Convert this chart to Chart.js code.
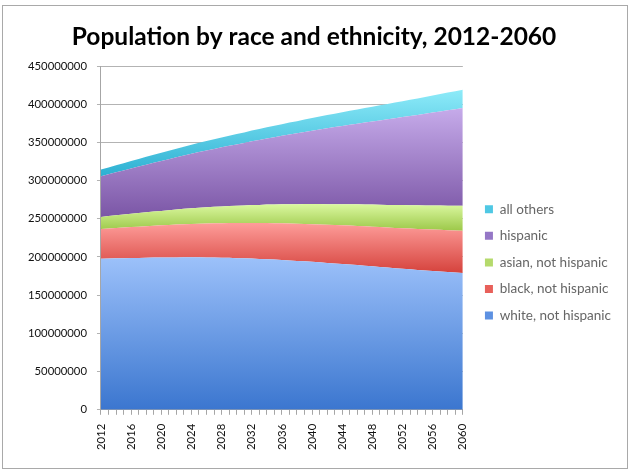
<!doctype html>
<html lang="en">
<head>
<meta charset="utf-8" />
<title>Population by race and ethnicity, 2012-2060</title>
<script src="https://cdn.jsdelivr.net/npm/chart.js@4.4.1/dist/chart.umd.min.js"></script>
<style>
  html, body { margin: 0; padding: 0; background: #fff; }
</style>
</head>
<body>
<canvas id="popChart" width="630" height="474"></canvas>
<script>
const years = [
  '2012', '2013', '2014', '2015', '2016', '2017', '2018', '2019', '2020',
  '2021', '2022', '2023', '2024', '2025', '2026', '2027', '2028', '2029', '2030',
  '2031', '2032', '2033', '2034', '2035', '2036', '2037', '2038', '2039', '2040',
  '2041', '2042', '2043', '2044', '2045', '2046', '2047', '2048', '2049', '2050',
  '2051', '2052', '2053', '2054', '2055', '2056', '2057', '2058', '2059', '2060'
];

const white = [
  197.8e6, 198.0e6, 198.2e6, 198.4e6, 198.6e6, 198.8e6, 199.0e6, 199.2e6, 199.3e6,
  199.4e6, 199.5e6, 199.6e6, 199.6e6, 199.6e6, 199.5e6, 199.3e6, 199.1e6, 198.9e6, 198.5e6,
  198.2e6, 197.9e6, 197.5e6, 197.1e6, 196.6e6, 196.1e6, 195.5e6, 194.9e6, 194.3e6, 193.7e6,
  193.0e6, 192.3e6, 191.6e6, 190.9e6, 190.2e6, 189.4e6, 188.6e6, 187.8e6, 187.0e6, 186.2e6,
  185.4e6, 184.6e6, 183.9e6, 183.1e6, 182.4e6, 181.7e6, 181.0e6, 180.3e6, 179.6e6, 178.9e6
];
const black = [
  38.9e6, 39.3e6, 39.7e6, 40.1e6, 40.5e6, 40.9e6, 41.3e6, 41.7e6, 42.1e6,
  42.5e6, 42.9e6, 43.3e6, 43.6e6, 44.0e6, 44.4e6, 44.8e6, 45.1e6, 45.5e6, 45.9e6,
  46.2e6, 46.6e6, 46.9e6, 47.3e6, 47.6e6, 48.0e6, 48.3e6, 48.6e6, 49.0e6, 49.3e6,
  49.6e6, 49.9e6, 50.3e6, 50.6e6, 50.9e6, 51.2e6, 51.5e6, 51.8e6, 52.1e6, 52.4e6,
  52.7e6, 53.0e6, 53.3e6, 53.6e6, 53.9e6, 54.2e6, 54.5e6, 54.8e6, 55.1e6, 55.4e6
];
const asian = [
  15.8e6, 16.2e6, 16.6e6, 17.0e6, 17.4e6, 17.8e6, 18.2e6, 18.5e6, 18.9e6,
  19.3e6, 19.7e6, 20.1e6, 20.5e6, 20.9e6, 21.2e6, 21.6e6, 22.0e6, 22.4e6, 22.7e6,
  23.1e6, 23.5e6, 23.8e6, 24.2e6, 24.6e6, 24.9e6, 25.3e6, 25.6e6, 26.0e6, 26.3e6,
  26.7e6, 27.0e6, 27.3e6, 27.7e6, 28.0e6, 28.3e6, 28.7e6, 29.0e6, 29.3e6, 29.6e6,
  29.9e6, 30.3e6, 30.6e6, 30.9e6, 31.2e6, 31.5e6, 31.8e6, 32.1e6, 32.4e6, 32.7e6
];
const hispanic = [
  53.3e6, 54.8e6, 56.3e6, 57.8e6, 59.3e6, 60.8e6, 62.3e6, 63.8e6, 65.3e6,
  66.8e6, 68.3e6, 69.8e6, 71.3e6, 72.8e6, 74.3e6, 75.8e6, 77.3e6, 78.8e6, 80.3e6,
  81.8e6, 83.4e6, 84.9e6, 86.5e6, 88.0e6, 89.6e6, 91.2e6, 92.8e6, 94.4e6, 96.0e6,
  97.6e6, 99.2e6, 100.8e6, 102.4e6, 104.0e6, 105.6e6, 107.2e6, 108.8e6, 110.4e6, 112.0e6,
  113.6e6, 115.2e6, 116.8e6, 118.4e6, 120.0e6, 121.6e6, 123.2e6, 124.8e6, 126.4e6, 128.0e6
];
const others = [
  8.8e6, 9.0e6, 9.3e6, 9.5e6, 9.8e6, 10.0e6, 10.3e6, 10.5e6, 10.8e6,
  11.0e6, 11.3e6, 11.6e6, 11.8e6, 12.1e6, 12.4e6, 12.6e6, 12.9e6, 13.2e6, 13.5e6,
  13.8e6, 14.1e6, 14.4e6, 14.7e6, 15.0e6, 15.3e6, 15.6e6, 15.9e6, 16.3e6, 16.6e6,
  16.9e6, 17.3e6, 17.6e6, 18.0e6, 18.3e6, 18.7e6, 19.0e6, 19.4e6, 19.8e6, 20.1e6,
  20.5e6, 20.9e6, 21.3e6, 21.6e6, 22.0e6, 22.4e6, 22.8e6, 23.2e6, 23.6e6, 24.0e6
];

const seriesNames = ['white, not hispanic', 'black, not hispanic', 'asian, not hispanic', 'hispanic', 'all others'];
const seriesValues = [white, black, asian, hispanic, others];
const yTicks = [0, 50e6, 100e6, 150e6, 200e6, 250e6, 300e6, 350e6, 400e6, 450e6];

// light (top of band) / dark (bottom of band) for the excel-like gradient
const lightColors = ['#9cc1fa', '#fe9d9a', '#dbf8a0', '#c6abea', '#8eebf9'];
const darkColors  = ['#3b76cf', '#d5423c', '#9cc849', '#7b56a6', '#2cb0d2'];
const legendColors = ['#5d91e2', '#e8605a', '#b5da6c', '#9577c6', '#4fc8e4'];

const FONT = 'Lato, "Open Sans", sans-serif';

function bandFill(i) {
  return function (ctx) {
    const chart = ctx.chart;
    if (!chart.chartArea) return darkColors[i];
    const y = chart.scales.y;
    let hi = 0, lo = Infinity;
    for (let j = 0; j < years.length; j++) {
      let below = 0;
      for (let k = 0; k < i; k++) below += seriesValues[k][j];
      hi = Math.max(hi, below + seriesValues[i][j]);
      lo = Math.min(lo, below);
    }
    const top = y.getPixelForValue(hi);
    const bottom = y.getPixelForValue(lo);
    const g = chart.ctx.createLinearGradient(0, top, 0, bottom);
    g.addColorStop(0, lightColors[i]);
    g.addColorStop(1, darkColors[i]);
    return g;
  };
}

const datasets = seriesValues.map((vals, i) => ({
  label: seriesNames[i],
  data: vals,
  fill: i === 0 ? 'origin' : '-1',
  backgroundColor: bandFill(i),
  borderWidth: 0,
  pointRadius: 0,
  tension: 0
}));

// grey frame round the whole chart, and keep the title centred on the frame
const framePlugin = {
  id: 'frame',
  afterLayout(chart) {
    const t = chart.titleBlock;
    if (t) { t.left = 1; t.right = 627; t.width = 626; }
  },
  afterDraw(chart) {
    const c = chart.ctx;
    c.save();
    c.strokeStyle = '#a9a9a9';
    c.lineWidth = 1;
    c.strokeRect(2.5, 5.5, 625, 463);
    c.restore();
  }
};

new Chart(document.getElementById('popChart'), {
  type: 'line',
  data: { labels: years, datasets: datasets },
  plugins: [framePlugin],
  options: {
    responsive: false,
    animation: false,
    layout: { padding: { left: 18, right: 9, top: 8, bottom: 15 } },
    plugins: {
      tooltip: { enabled: false },
      title: {
        display: true,
        text: 'Population by race and ethnicity, 2012-2060',
        color: '#000',
        font: { family: FONT, size: 24.5, weight: 'bold' },
        padding: { top: 14.4, bottom: 14.2 }
      },
      legend: {
        position: 'right',
        reverse: true,
        maxWidth: 154,
        title: { display: true, text: ' ', padding: { top: 21.7, bottom: 21.7 }, font: { size: 12 } },
        labels: {
          color: '#111',
          font: { family: FONT, size: 13.5 },
          boxWidth: 8,
          boxHeight: 8,
          padding: 13.1,
          generateLabels(chart) {
            return chart.data.datasets.map((ds, i) => ({
              text: ds.label,
              fillStyle: legendColors[i],
              strokeStyle: legendColors[i],
              lineWidth: 0,
              hidden: false,
              datasetIndex: i
            }));
          }
        }
      }
    },
    scales: {
      x: {
        grid: { display: true, drawOnChartArea: false, color: '#a6a6a6', tickLength: 5 },
        border: { color: '#a6a6a6' },
        ticks: {
          autoSkip: false,
          maxRotation: 90,
          minRotation: 90,
          padding: 9,
          color: '#111',
          font: { family: FONT, size: 11.3 },
          callback: (v, i) => (i % 4 === 0 ? years[i] : '')
        }
      },
      y: {
        stacked: true,
        min: 0,
        max: 450e6,
        afterBuildTicks: (s) => { s.ticks = yTicks.map(v => ({ value: v })); },
        grid: { color: '#b3b3b3', tickLength: 4 },
        border: { color: '#a6a6a6' },
        ticks: {
          padding: 10,
          color: '#111',
          font: { family: FONT, size: 11.3 },
          callback: (v) => String(v)
        }
      },
      gap: {
        type: 'linear',
        position: 'right',
        display: true,
        grid: { display: false },
        border: { display: false },
        ticks: { display: false },
        afterFit: (s) => { s.width = 9; }
      }
    }
  }
});
</script>
</body>
</html>
